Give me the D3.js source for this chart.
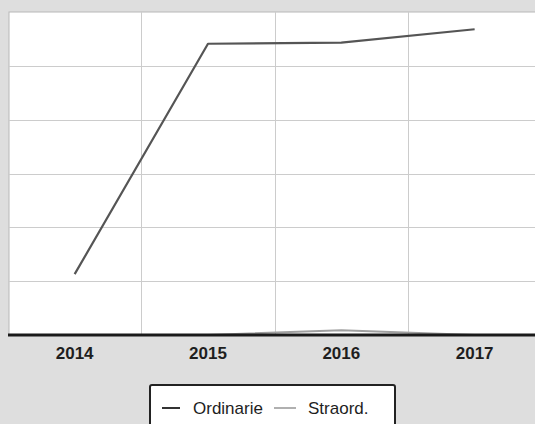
<!DOCTYPE html>
<html>
<head>
<meta charset="utf-8">
<script src="https://cdn.jsdelivr.net/npm/d3@7"></script>
<style>
  html, body { margin: 0; padding: 0; background: #dedede; }
  svg { display: block; font-family: "Liberation Sans", Arial, sans-serif; }
</style>
</head>
<body>
<svg id="chart" width="535" height="424"></svg>
<script>
const categories = ["2014", "2015", "2016", "2017"];
const ordinarie = [113, 541, 543, 568];
const straord = [0, 0, 9, 0];
const yTicks = [0, 100, 200, 300, 400, 500, 600];
const seriesNames = ["Ordinarie", "Straord."];

const svg = d3.select("#chart");
const W = 535, H = 424;

svg.append("rect").attr("width", W).attr("height", H).attr("fill", "#dedede");

const x = d3.scaleBand().domain(categories).range([8, 541.3]).padding(0);
const y = d3.scaleLinear().domain([0, 600]).range([335, 12]);

// plot area
svg.append("rect")
  .attr("x", 9).attr("y", 12).attr("width", 540).attr("height", 323)
  .attr("fill", "#ffffff").attr("stroke", "#b8b8b8").attr("stroke-width", 1);

// horizontal gridlines
svg.append("g").selectAll("line")
  .data(yTicks.filter(t => t > 0 && t < 600))
  .join("line")
  .attr("x1", 9).attr("x2", W)
  .attr("y1", d => Math.round(y(d)) + 0.5).attr("y2", d => Math.round(y(d)) + 0.5)
  .attr("stroke", "#cccccc").attr("stroke-width", 1);

// vertical gridlines at band boundaries
svg.append("g").selectAll("line")
  .data(categories.slice(1))
  .join("line")
  .attr("x1", d => Math.round(x(d)) + 0.5).attr("x2", d => Math.round(x(d)) + 0.5)
  .attr("y1", 12).attr("y2", 335)
  .attr("stroke", "#cccccc").attr("stroke-width", 1);

const line = d3.line()
  .x((d, i) => x(categories[i]) + x.bandwidth() / 2)
  .y(d => y(d));

svg.append("path").datum(straord)
  .attr("d", line).attr("fill", "none")
  .attr("stroke", "#a0a0a0").attr("stroke-width", 2);

svg.append("path").datum(ordinarie)
  .attr("d", line).attr("fill", "none")
  .attr("stroke", "#555555").attr("stroke-width", 2.2)
  .attr("stroke-linejoin", "round");

// x axis
const xAxis = svg.append("g")
  .attr("transform", "translate(0,335)")
  .call(d3.axisBottom(x).tickSize(0).tickPadding(8));
xAxis.select(".domain").remove();
xAxis.append("line").attr("x1", 8).attr("x2", W).attr("y1", 0).attr("y2", 0)
  .attr("stroke", "#1a1a1a").attr("stroke-width", 3);
xAxis.selectAll("text")
  .attr("font-family", "Liberation Sans, Arial, sans-serif")
  .attr("font-size", 17).attr("font-weight", "bold").attr("fill", "#1e1e1e")
  .attr("dy", "0.95em");

// legend
const lg = svg.append("g");
lg.append("rect").attr("x", 150).attr("y", 385).attr("width", 245).attr("height", 50)
  .attr("rx", 2).attr("fill", "#ffffff").attr("stroke", "#222222").attr("stroke-width", 2);
const legendItems = [
  { name: seriesNames[0], color: "#333333", x1: 162, x2: 180, tx: 193 },
  { name: seriesNames[1], color: "#b0b0b0", x1: 274, x2: 296, tx: 308 }
];
legendItems.forEach(it => {
  lg.append("line").attr("x1", it.x1).attr("x2", it.x2).attr("y1", 408).attr("y2", 408)
    .attr("stroke", it.color).attr("stroke-width", 2);
  lg.append("text").attr("x", it.tx).attr("y", 414)
    .attr("font-size", 17).attr("fill", "#1e1e1e").text(it.name);
});
</script>
</body>
</html>
